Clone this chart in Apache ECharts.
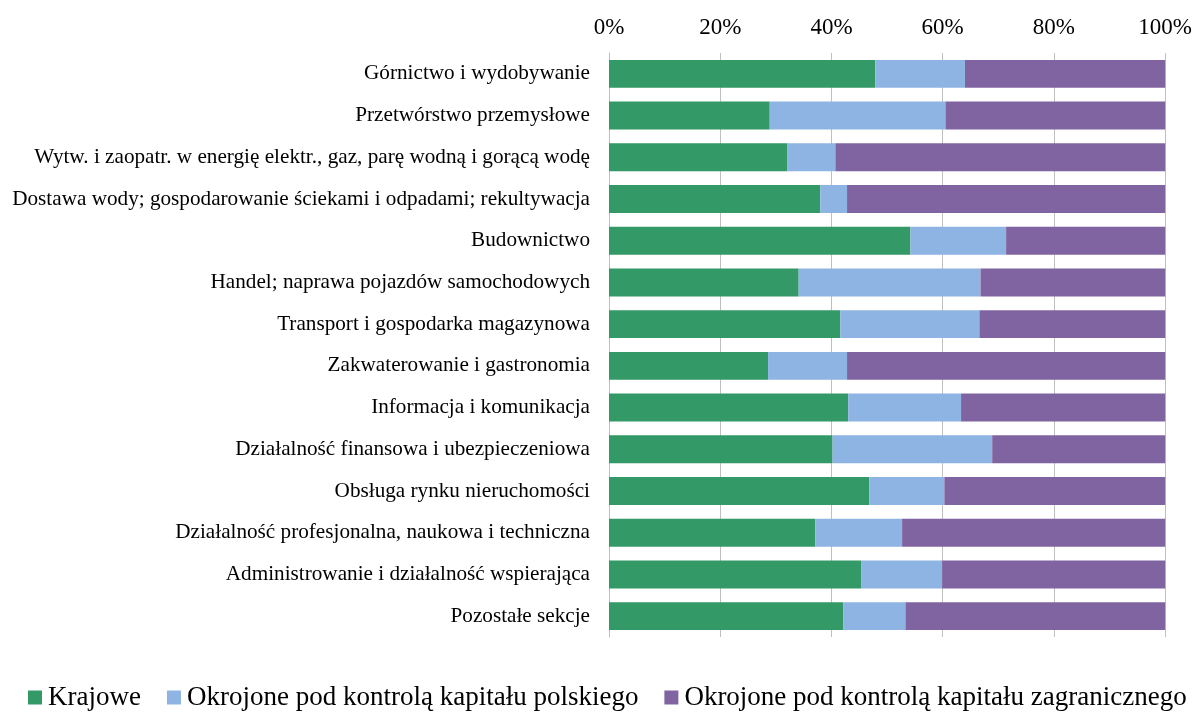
<!DOCTYPE html>
<html><head><meta charset="utf-8">
<script src="https://cdn.jsdelivr.net/npm/echarts@6/dist/echarts.min.js"></script>
<style>html,body{margin:0;padding:0;background:#fff;overflow:hidden}#c{width:1195px;height:713px}</style>
</head><body><div id="c"></div>
<script>
const categories = [
  "Górnictwo i wydobywanie",
  "Przetwórstwo przemysłowe",
  "Wytw. i zaopatr. w energię elektr., gaz, parę wodną i gorącą wodę",
  "Dostawa wody; gospodarowanie ściekami i odpadami; rekultywacja",
  "Budownictwo",
  "Handel; naprawa pojazdów samochodowych",
  "Transport i gospodarka magazynowa",
  "Zakwaterowanie i gastronomia",
  "Informacja i komunikacja",
  "Działalność finansowa i ubezpieczeniowa",
  "Obsługa rynku nieruchomości",
  "Działalność profesjonalna, naukowa i techniczna",
  "Administrowanie i działalność wspierająca",
  "Pozostałe sekcje"
];
const seriesNames = ["Krajowe", "Okrojone pod kontrolą kapitału polskiego", "Okrojone pod kontrolą kapitału zagranicznego"];
const krajowe =     [47.9, 28.9, 32.1, 38.0, 54.2, 34.1, 41.6, 28.6, 43.0, 40.2, 46.8, 37.1, 45.4, 42.1];
const polskie =     [16.1, 31.6,  8.6,  4.8, 17.2, 32.7, 25.0, 14.2, 20.3, 28.7, 13.5, 15.6, 14.5, 11.2];
const zagraniczne = [36.0, 39.5, 59.3, 57.2, 28.6, 33.2, 33.4, 57.2, 36.7, 31.1, 39.7, 47.3, 40.1, 46.7];
const tickValues = [0, 20, 40, 60, 80, 100];
const colors = ["#339966", "#8EB4E3", "#8064A2"];

const font = "'Liberation Serif', 'Times New Roman', serif";
const chart = echarts.init(document.getElementById('c'));
const data = [krajowe, polskie, zagraniczne];
chart.setOption({
  animation: false,
  textStyle: { fontFamily: font, color: '#000' },
  grid: { left: 609, right: 27, top: 53, bottom: 76, containLabel: false },
  legend: {
    top: 684, left: 28, width: 1167, padding: 0,
    itemWidth: 14, itemHeight: 14, itemGap: 26,
    icon: 'rect',
    textStyle: { fontFamily: font, fontSize: 27, color: '#000', padding: [0, 0, 0, 1] },
    data: seriesNames
  },
  xAxis: {
    type: 'value', position: 'top', min: 0, max: 100, interval: 20,
    axisLine: { show: false }, axisTick: { show: false },
    splitLine: { show: true, lineStyle: { color: '#bfbfbf', width: 1 } },
    axisLabel: { fontFamily: font, fontSize: 23, color: '#000', margin: 14,
      formatter: v => tickValues.includes(v) ? v + '%' : '' }
  },
  yAxis: {
    type: 'category', inverse: true, data: categories,
    axisLine: { show: true, lineStyle: { color: '#bfbfbf' } },
    axisTick: { show: false },
    axisLabel: { fontFamily: font, fontSize: 21.2, color: '#000', margin: 19 }
  },
  series: seriesNames.map((n, i) => ({
    name: n, type: 'bar', stack: 'total', barCategoryGap: '33%',
    itemStyle: { color: colors[i] },
    data: data[i]
  }))
});
</script></body></html>
